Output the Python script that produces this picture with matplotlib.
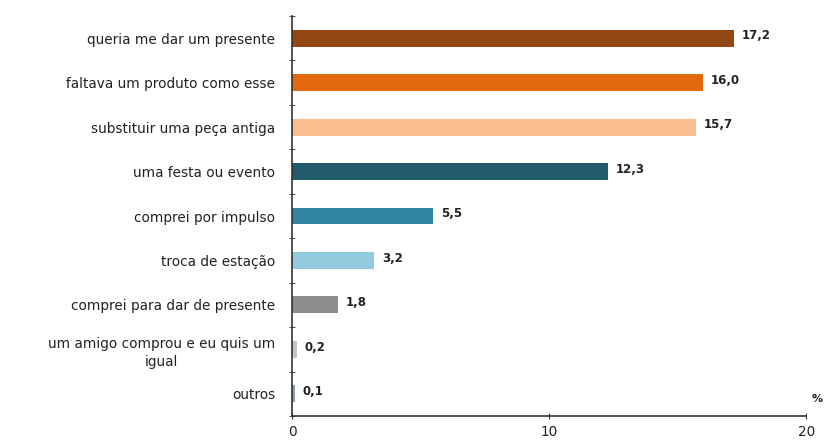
import matplotlib.pyplot as plt
import numpy as np

# motivos de compra (%)
categorias = [
    "queria me dar um presente",
    "faltava um produto como esse",
    "substituir uma peça antiga",
    "uma festa ou evento",
    "comprei por impulso",
    "troca de estação",
    "comprei para dar de presente",
    "um amigo comprou e eu quis um\nigual",
    "outros",
]
valores = [17.2, 16.0, 15.7, 12.3, 5.5, 3.2, 1.8, 0.2, 0.1]
rotulos = ["17,2", "16,0", "15,7", "12,3", "5,5", "3,2", "1,8", "0,2", "0,1"]
cores = ["#924812", "#E2690E", "#F9BE90", "#215B6B", "#2F84A0",
         "#93CADD", "#8C8C8C", "#C4C4C4", "#8E9CC4"]

plt.rcParams['font.family'] = ['DejaVu Sans']

fig = plt.figure(figsize=(8.26, 4.44), dpi=100)
ax = fig.add_axes([0.3535, 0.063, 0.6225, 0.901])

y = np.arange(len(categorias))
ax.barh(y, valores, height=0.38, color=cores)
for yi, v, r in zip(y, valores, rotulos):
    ax.text(v + 0.3, yi - 0.05, r, va='center', ha='left',
            fontsize=8.5, fontweight='bold', color='#222222')

ax.set_xlim(0, 20)
ax.set_ylim(len(categorias) - 0.5, -0.5)
ax.set_yticks(y)
ax.set_yticklabels(categorias, fontsize=9.8, color='#222222',
                   linespacing=1.35)
for lbl in ax.get_yticklabels():
    lbl.set_multialignment('center')
ax.set_yticks(np.arange(-0.5, len(categorias), 1), minor=True)
ax.tick_params(axis='y', which='major', length=0, pad=12)
ax.tick_params(axis='y', which='minor', length=5, direction='inout',
               color='#333333')
ax.set_xticks([0, 10, 20])
ax.set_xticklabels(["0", "10", "20"], fontsize=9.8, color='#222222')
ax.tick_params(axis='x', length=5, direction='inout', color='#333333', pad=4)

for s in ['top', 'right']:
    ax.spines[s].set_visible(False)
for s in ['left', 'bottom']:
    ax.spines[s].set_color('#333333')
    ax.spines[s].set_linewidth(1.2)

ax.text(1.01, 0.03, "%", transform=ax.transAxes, fontsize=8,
        fontweight='bold', color='#222222', ha='left', va='bottom')

fig.savefig("out.png", dpi=100)
